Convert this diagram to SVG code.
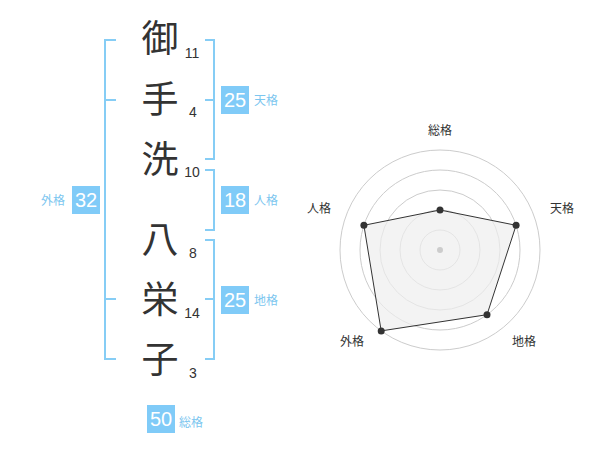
<svg xmlns="http://www.w3.org/2000/svg" width="600" height="470" viewBox="0 0 600 470">
<style>
.ch{font-family:"Noto Sans CJK JP","Noto Sans",sans-serif;font-size:37px;fill:#333;text-anchor:middle}
.num{font-family:"Liberation Sans",Arial,sans-serif;font-size:14px;fill:#333;text-anchor:middle}
.br{fill:none;stroke:#86cdf5;stroke-width:2}
.box{fill:#80cbf8}
.bn{font-family:"Liberation Sans",Arial,sans-serif;font-size:20px;fill:#fff;text-anchor:middle}
.bl{font-family:"Noto Sans CJK JP",sans-serif;font-size:12px;fill:#7cc6ef}
.rl{font-family:"Noto Sans CJK JP",sans-serif;font-size:12px;fill:#333;text-anchor:middle}
.ring{fill:none;stroke:#ccc;stroke-width:1}
.pt{fill:#333}
</style>
<rect width="600" height="470" fill="#fff"/>
<g id="name">
<text class="ch" x="160" y="52">御</text>
<text class="ch" x="160" y="113">手</text>
<text class="ch" x="160" y="173">洗</text>
<text class="ch" x="160" y="253">八</text>
<text class="ch" x="160" y="313">栄</text>
<text class="ch" x="160" y="373">子</text>
<text class="num" x="192" y="58">11</text>
<text class="num" x="193" y="117">4</text>
<text class="num" x="192" y="177">10</text>
<text class="num" x="193" y="258">8</text>
<text class="num" x="192" y="318">14</text>
<text class="num" x="193" y="378">3</text>
</g>
<g id="connectors">
<path class="br" d="M116,40H105V359H116M105,100H116M105,299H116"/>
<path class="br" d="M205,40H214V159H205M205,100H214"/>
<path class="br" d="M205,170H214V230H205"/>
<path class="br" d="M205,240H214V359H205M205,299H214"/>
</g>
<g id="tenkaku">
<rect class="box" x="221" y="86" width="28" height="28"/>
<text class="bn" x="235" y="107">25</text>
<text class="bl" x="254" y="105">天格</text>
</g>
<g id="jinkaku">
<rect class="box" x="221" y="186" width="28" height="28"/>
<text class="bn" x="235" y="207">18</text>
<text class="bl" x="254" y="205">人格</text>
</g>
<g id="chikaku">
<rect class="box" x="221" y="286" width="28" height="28"/>
<text class="bn" x="235" y="307">25</text>
<text class="bl" x="254" y="305">地格</text>
</g>
<g id="gaikaku">
<rect class="box" x="72" y="186" width="28" height="28"/>
<text class="bn" x="86" y="207">32</text>
<text class="bl" x="41" y="205">外格</text>
</g>
<g id="soukaku">
<rect class="box" x="147" y="405" width="28" height="28"/>
<text class="bn" x="161" y="426">50</text>
<text class="bl" x="179" y="427">総格</text>
</g>
<g id="radar">
<circle class="ring" cx="440" cy="250" r="20"/>
<circle class="ring" cx="440" cy="250" r="40"/>
<circle class="ring" cx="440" cy="250" r="60"/>
<circle class="ring" cx="440" cy="250" r="80"/>
<circle class="ring" cx="440" cy="250" r="100"/>
<polygon points="440,210 516.1,225.3 487,314.7 381.2,330.9 363.9,225.3" fill="#eee" fill-opacity="0.7" stroke="#333" stroke-width="1"/>
<circle cx="440" cy="250" r="3" fill="#ccc"/>
<circle class="pt" cx="440" cy="210" r="3.5"/>
<circle class="pt" cx="516.1" cy="225.3" r="3.5"/>
<circle class="pt" cx="487" cy="314.7" r="3.5"/>
<circle class="pt" cx="381.2" cy="330.9" r="3.5"/>
<circle class="pt" cx="363.9" cy="225.3" r="3.5"/>
<text class="rl" x="440" y="135">総格</text>
<text class="rl" x="562" y="213">天格</text>
<text class="rl" x="524" y="346">地格</text>
<text class="rl" x="352" y="346">外格</text>
<text class="rl" x="319" y="213">人格</text>
</g>
</svg>
